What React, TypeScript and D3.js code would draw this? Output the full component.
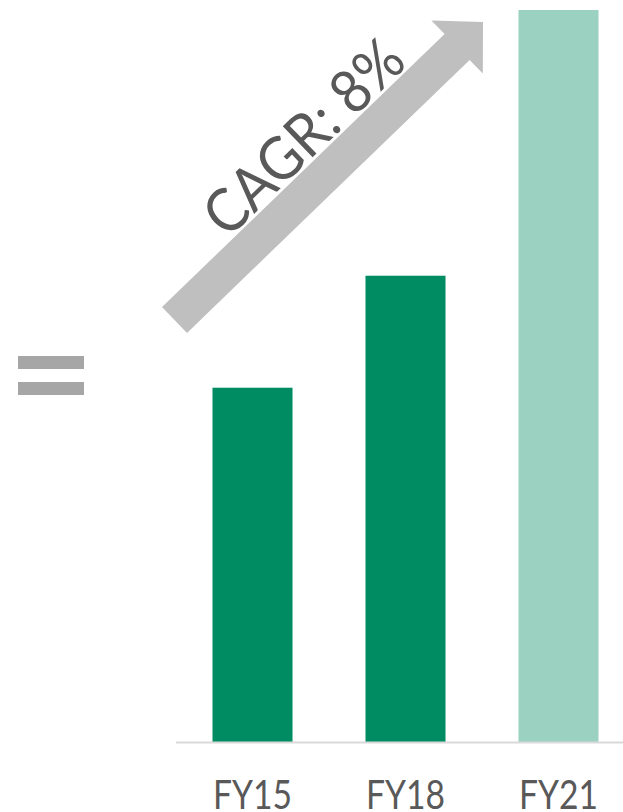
import React from "react";
import * as d3 from "d3";

const categories = ["FY15", "FY18", "FY21"];
const values = [4.84, 6.37, 10.0];
const barColors = ["#008c62", "#008c62", "#9bd1c0"];
const cagrLabel = "CAGR: 8%";

const W = 623;
const H = 812;

export default function App() {
  const x = d3.scaleBand<string>().domain(categories).range([176, 635]).paddingInner(0.477).paddingOuter(0.2385);
  const y = d3.scaleLinear().domain([0, 10]).range([742, 10]);

  // arrow geometry
  const tail = [174.5, 320];
  const tip = [483, 22];
  const ang = (Math.atan2(tip[1] - tail[1], tip[0] - tail[0]) * 180) / Math.PI;
  const L = Math.hypot(tip[0] - tail[0], tip[1] - tail[1]);
  const sw = 18, hw = 37, hl = 36;
  const pts = [
    [0, -sw], [L - hl, -sw], [L - hl, -hw], [L, 0], [L - hl, hw], [L - hl, sw], [0, sw],
  ];
  const arrowPath = d3.line()(pts as [number, number][]) + "Z";

  return (
    <svg width={W} height={H} style={{ position: "absolute", left: 0, top: 0 }}>
      <rect width={W} height={H} fill="#fff" />
      {/* equals sign */}
      <rect x={18} y={356} width={66} height={13} fill="#a6a6a6" />
      <rect x={18} y={382} width={66} height={13} fill="#a6a6a6" />
      {categories.map((c, i) => (
        <rect key={c} x={x(c)} y={y(values[i])} width={x.bandwidth()} height={y(0) - y(values[i])} fill={barColors[i]} />
      ))}
      <line x1={176} x2={W} y1={742.5} y2={742.5} stroke="#d9d9d9" strokeWidth={2} />
      {categories.map((c) => (
        <text key={c} x={(x(c) as number) + x.bandwidth() / 2} y={809} textAnchor="middle" fontFamily="Lato, 'Open Sans', sans-serif" fontSize={40} fill="#595959" textLength={79} lengthAdjust="spacingAndGlyphs">
          {c}
        </text>
      ))}
      <g transform={`translate(${tail[0]},${tail[1]}) rotate(${ang})`}>
        <path d={arrowPath} fill="#bfbfbf" />
        <text x={94} y={-21} fontFamily="Lato, 'Open Sans', sans-serif" fontSize={60} fill="#595959" textLength={252} lengthAdjust="spacingAndGlyphs">
          {cagrLabel}
        </text>
      </g>
    </svg>
  );
}
